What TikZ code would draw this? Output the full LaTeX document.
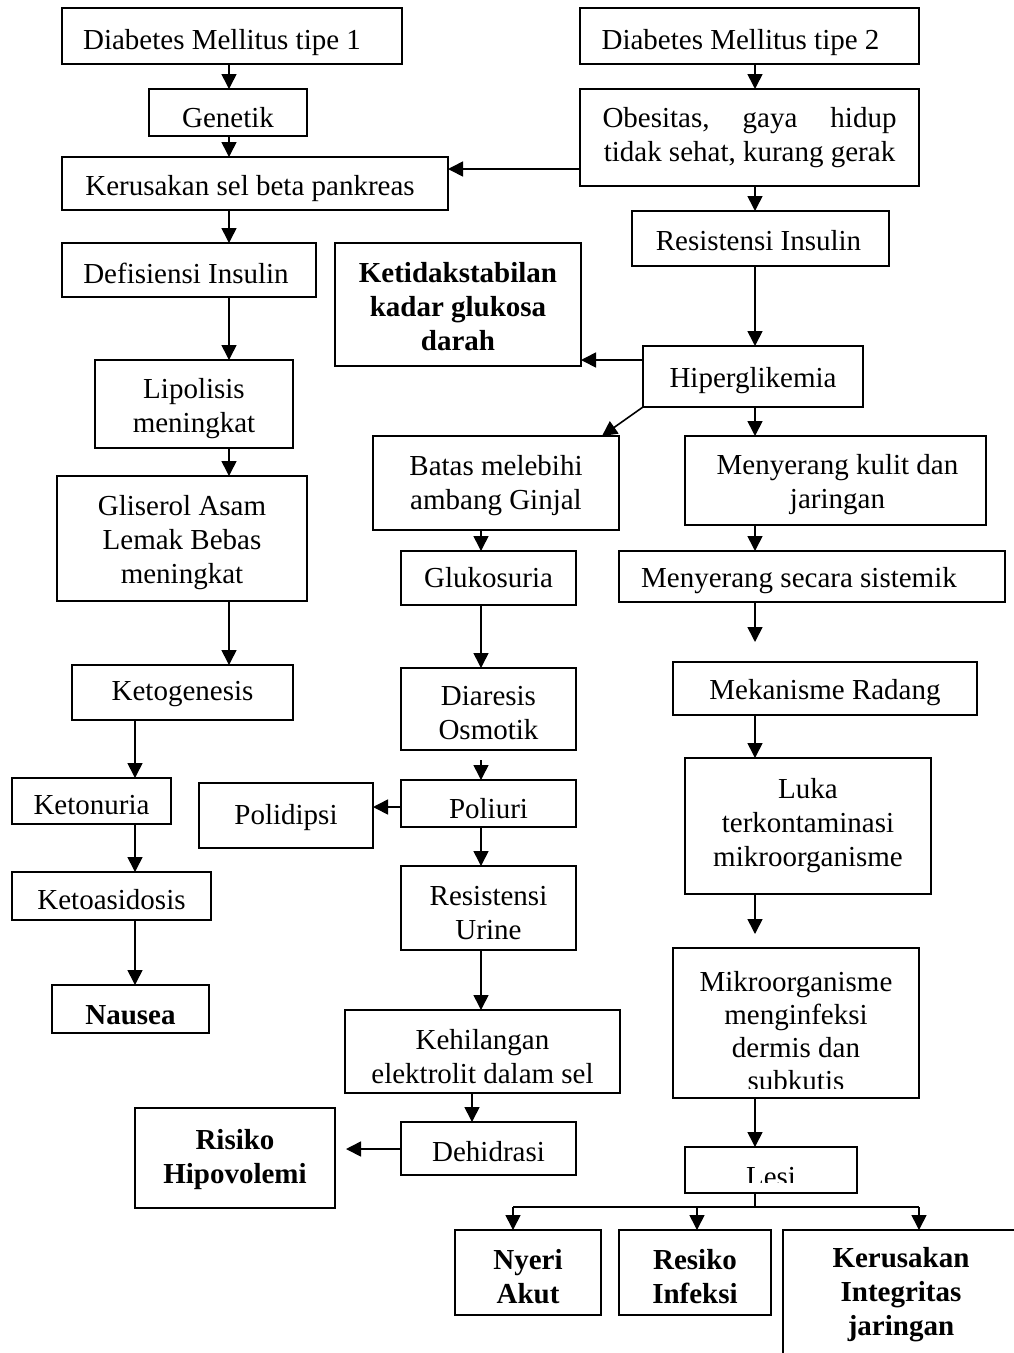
\documentclass[tikz,border=0pt]{standalone}
\usepackage{fontspec}
\setmainfont{Liberation Serif}
\usetikzlibrary{arrows.meta}
\tikzset{
 frame/.style={draw, line width=1.6pt, inner sep=0pt, outer sep=0pt},
 txt/.style={inner sep=0pt, outer sep=0pt, align=center, font=\fontsize{29}{34}\selectfont},
 btxt/.style={txt, font=\fontsize{29}{34}\selectfont\bfseries},
 plain/.style={inner sep=0pt, outer sep=0pt, align=center, font=\fontsize{29}{33}\selectfont},
 arr/.style={line width=1.6pt, -{Triangle[length=15pt,width=15pt]}},
 ln/.style={line width=1.6pt},
}
% #1 text style, #2 name, #3-#6 corners, #7 #8 text offset, #9 text
\newcommand\bx[9]{\node[frame, minimum width={#5pt-#3pt}, minimum height={#6pt-#4pt}] (#2) at ({(#3+#5)/2},{(#4+#6)/2}) {};
\node[#1] (#2t) at ([shift={(#7,#8)}]#2.center) {#9};}
\begin{document}
\begin{tikzpicture}[x=1pt,y=-1pt]
\useasboundingbox (0,0) rectangle (1014,1353);
\clip (0,0) rectangle (1014,1353);
\fill[white] (0,0) rectangle (1014,1353);
% left column
\bx{txt}{dm1}{62}{8}{402}{64}{-10}{7}{Diabetes Mellitus tipe 1}
\bx{txt}{gen}{149}{89}{307}{136}{0}{5}{Genetik}
\bx{txt}{ker}{62}{157}{448}{210}{-5}{5}{Kerusakan sel beta pankreas}
\bx{txt}{def}{62}{243}{316}{297}{-3}{3}{Defisiensi Insulin}
\bx{txt}{lip}{95}{360}{293}{448}{0}{5}{Lipolisis\\meningkat}
\bx{txt}{gli}{57}{476}{307}{601}{0}{4}{Gliserol Asam\\Lemak Bebas\\meningkat}
\bx{txt}{ketog}{72}{665}{293}{720}{0}{2}{Ketogenesis}
\bx{txt}{keton}{12}{778}{171}{824}{0}{4}{Ketonuria}
\bx{txt}{ketoa}{12}{872}{211}{920}{0}{4}{Ketoasidosis}
\bx{btxt}{naus}{52}{985}{209}{1033}{0}{6}{Nausea}
% right top
\bx{txt}{dm2}{580}{8}{919}{64}{-9}{7}{Diabetes Mellitus tipe 2}
\bx{txt}{obe}{580}{89}{919}{186}{0}{0}{\hbox to 294pt{Obesitas,\hfill gaya\hfill hidup}\\tidak sehat, kurang gerak}
\bx{txt}{res}{632}{211}{889}{266}{-2}{2}{Resistensi Insulin}
\bx{btxt}{ketid}{335}{243}{581}{366}{0}{2}{Ketidakstabilan\\kadar glukosa\\darah}
\bx{txt}{hip}{643}{346}{863}{407}{0}{4}{Hiperglikemia}
% middle column
\bx{txt}{batas}{373}{436}{619}{530}{0}{3}{Batas melebihi\\ambang Ginjal}
\bx{txt}{gluk}{401}{551}{576}{605}{0}{0}{Glukosuria}
\bx{txt}{diar}{401}{668}{576}{750}{0}{4}{Diaresis\\Osmotik}
\bx{txt}{poli}{401}{780}{576}{827}{0}{5}{Poliuri}
\bx{txt}{polid}{199}{783}{373}{848}{0}{2}{Polidipsi}
\bx{txt}{resu}{401}{866}{576}{950}{0}{5}{Resistensi\\Urine}
\bx{txt}{kehil}{345}{1010}{620}{1093}{0}{5}{Kehilangan\\elektrolit dalam sel}
\bx{txt}{dehid}{401}{1122}{576}{1175}{0}{3}{Dehidrasi}
\bx{btxt}{risk}{135}{1108}{335}{1208}{0}{2}{Risiko\\Hipovolemi}
% right column
\bx{txt}{kulit}{685}{436}{986}{525}{2}{4}{Menyerang kulit dan\\jaringan}
\bx{txt}{sist}{619}{551}{1005}{602}{-13}{4}{Menyerang secara sistemik}
\bx{txt}{mek}{673}{662}{977}{715}{0}{4}{Mekanisme Radang}
\bx{txt}{luka}{685}{758}{931}{894}{0}{0}{Luka\\terkontaminasi\\mikroorganisme}
\node[frame, minimum width=246pt, minimum height=150pt] (mikro) at (796,1023) {};
\begin{scope}
\clip (673,948) rectangle (919,1088);
\node[plain] (mikrot) at (796,1031) {Mikroorganisme\\menginfeksi\\dermis dan\\subkutis};
\end{scope}
\node[frame, minimum width=172pt, minimum height=46pt] (lesi) at (771,1170) {};
\begin{scope}
\clip (685,1147) rectangle (857,1182);
\node[plain, anchor=base] (lesit) at (771,1186) {Lesi};
\end{scope}
\bx{btxt}{nyeri}{455}{1230}{601}{1315}{0}{4}{Nyeri\\Akut}
\bx{btxt}{infek}{619}{1230}{771}{1315}{0}{4}{Resiko\\Infeksi}
\bx{btxt}{integ}{783}{1230}{1019}{1368}{0}{-4}{Kerusakan\\Integritas\\jaringan}
% arrows left
\draw[arr] (dm1.south -| 229,0) -- (gen.north -| 229,0);
\draw[arr] (gen.south -| 229,0) -- (ker.north -| 229,0);
\draw[arr] (ker.south -| 229,0) -- (def.north -| 229,0);
\draw[arr] (def.south -| 229,0) -- (lip.north -| 229,0);
\draw[arr] (lip.south -| 229,0) -- (gli.north -| 229,0);
\draw[arr] (gli.south -| 229,0) -- (ketog.north -| 229,0);
\draw[arr] (ketog.south -| 135,0) -- (keton.north -| 135,0);
\draw[arr] (keton.south -| 135,0) -- (ketoa.north -| 135,0);
\draw[arr] (ketoa.south -| 135,0) -- (naus.north -| 135,0);
% arrows right top
\draw[arr] (obe.west |- 0,169) -- (ker.east |- 0,169);
\draw[arr] (dm2.south -| 755,0) -- (obe.north -| 755,0);
\draw[arr] (obe.south -| 755,0) -- (res.north -| 755,0);
\draw[arr] (res.south -| 755,0) -- (hip.north -| 755,0);
\draw[arr] (hip.west |- 0,360) -- (ketid.east |- 0,360);
\draw[arr] (hip.south west) -- (batas.north -| 602,0);
\draw[arr] (hip.south -| 755,0) -- (kulit.north -| 755,0);
% middle arrows
\draw[arr] (batas.south -| 481,0) -- (gluk.north -| 481,0);
\draw[arr] (gluk.south -| 481,0) -- (diar.north -| 481,0);
\draw[arr, shorten <=10pt] (diar.south -| 481,0) -- (poli.north -| 481,0);
\draw[arr] (poli.west |- 0,807) -- (polid.east |- 0,807);
\draw[arr] (poli.south -| 481,0) -- (resu.north -| 481,0);
\draw[arr] (resu.south -| 481,0) -- (kehil.north -| 481,0);
\draw[arr] (kehil.south -| 472,0) -- (dehid.north -| 472,0);
\draw[arr, shorten >=11pt] (dehid.west |- 0,1149) -- (risk.east |- 0,1149);
% right arrows
\draw[arr] (kulit.south -| 755,0) -- (sist.north -| 755,0);
\draw[arr, shorten >=20pt] (sist.south -| 755,0) -- (mek.north -| 755,0);
\draw[arr] (mek.south -| 755,0) -- (luka.north -| 755,0);
\draw[arr, shorten >=14pt] (luka.south -| 755,0) -- (mikro.north -| 755,0);
\draw[arr] (mikro.south -| 755,0) -- (lesi.north -| 755,0);
\coordinate (jm) at (755,1207);
\coordinate (jl) at (513,1207);
\coordinate (jc) at (697,1207);
\coordinate (jr) at (919,1207);
\draw[ln] (lesi.south -| jm) -- (jm);
\draw[ln] (jl) -- (jr);
\draw[arr] (jl) -- (nyeri.north -| jl);
\draw[arr] (jc) -- (infek.north -| jc);
\draw[arr] (jr) -- (integ.north -| jr);
\end{tikzpicture}
\end{document}
